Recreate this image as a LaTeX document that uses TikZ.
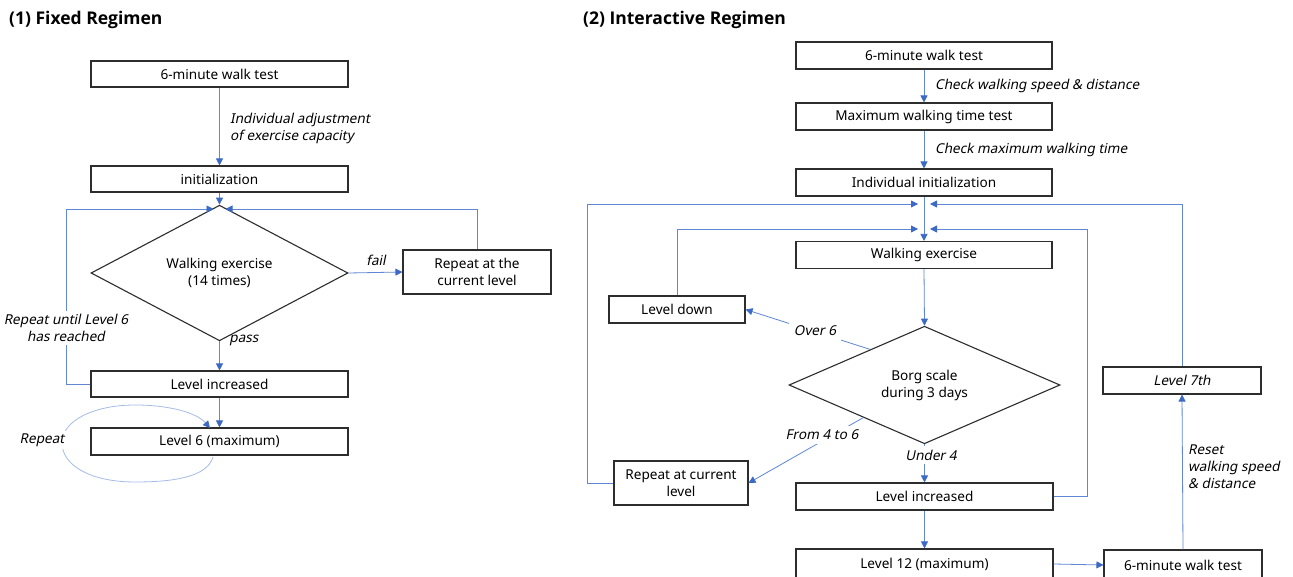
\documentclass[tikz,border=0pt]{standalone}
\usepackage{fontspec}
\setmainfont{Noto Sans}
\newfontfamily\oblfont{Noto Sans}[FakeSlant=0.2]
\newfontfamily\ttlfont{Open Sans}
\usetikzlibrary{arrows.meta,shapes.geometric,calc}
\definecolor{ln}{RGB}{95,135,212}
\definecolor{lnl}{RGB}{165,188,230}
\definecolor{ah}{RGB}{60,105,195}
\definecolor{bx}{RGB}{45,45,45}
\begin{document}
\begin{tikzpicture}[x=1pt,y=-1pt,
 box/.style={draw=bx,line width=1.1pt,minimum height=26pt,inner sep=0pt,font=\fontsize{13.6}{17}\selectfont,align=center},
 dia/.style={draw=bx,line width=1.1pt,diamond,inner sep=0pt,font=\fontsize{13.6}{17}\selectfont,align=center},
 arr/.style={draw=ln,line width=0.8pt,-{Triangle[length=7pt,width=7pt,color=ah]}},
 lbl/.style={font=\oblfont\fontsize{13.6}{17}\selectfont,align=left,inner sep=1pt},
 ttl/.style={font=\ttlfont\fontsize{17.5}{20}\selectfont\bfseries,anchor=west,inner sep=0pt}]
\useasboundingbox[fill=white] (0,0) rectangle (1293,577);

% ---------- (1) Fixed regimen ----------
\node[ttl] (t1) at (9,20) {(1) Fixed Regimen};
\node[box,minimum width=257pt] (a1) at (219.5,74) {6-minute walk test};
\node[box,minimum width=257pt] (a2) at (219.5,179) {initialization};
\node[dia,minimum width=257pt,minimum height=88pt] (a3) at (219.5,273) {Walking exercise\\(14 times)};
\node[box,minimum width=148pt,minimum height=44pt] (a4) at (477,272) {Repeat at the\\current level};
\node[box,minimum width=257pt] (a5) at (219.5,384) {Level increased};
\node[box,minimum width=257pt,minimum height=27pt] (a6) at (219.5,441.5) {Level 6 (maximum)};

\coordinate (m1l) at (213.5,209);
\coordinate (m1r) at (225.5,209);
\coordinate (c1) at (66,209);

\draw[arr] (a1.south) -- (a2.north);
\node[lbl,anchor=west] (l1) at (229,128) {Individual adjustment\\of exercise capacity};
\draw[arr] (a2.south) -- (a3.north);
\draw[arr] (a3.east) -- (a4.west);
\node[lbl] (l2) at (376,260) {fail};
\draw[arr] (a3.south) -- (a5.north);
\node[lbl] (l3) at (244,340) {pass};
\draw[arr] (a5.south) -- (a6.north);
\draw[arr] (a4.north) |- (m1r);
\draw[arr] (a5.west) -| (c1) -- (m1l);
\node[lbl,fill=white,align=center,inner sep=3pt] (l4) at (66,328) {Repeat until Level 6\\has reached};
\coordinate (r1) at (213,457);
\coordinate (r2) at (210,428);
\draw[draw=lnl,line width=0.8pt,-{Triangle[length=7pt,width=7pt,color=ah]}] (r1) .. controls (207,478) and (170,482) .. (135,482) .. controls (90,482) and (62,465) .. (62,443) .. controls (62,420) and (95,405) .. (135,405) .. controls (170,405) and (197,413) .. (r2);
\node[lbl,fill=white,inner sep=3pt] (l5) at (42,440) {Repeat};

% ---------- (2) Interactive regimen ----------
\node[ttl] (t2) at (583,20) {(2) Interactive Regimen};
\node[box,minimum width=256pt,minimum height=27pt] (b1) at (924,55.5) {6-minute walk test};
\node[box,minimum width=256pt,minimum height=27pt] (b2) at (924,116.5) {Maximum walking time test};
\node[box,minimum width=256pt,minimum height=27pt] (b3) at (924,182.5) {Individual initialization};
\node[box,minimum width=256pt,minimum height=27pt] (b4) at (924,255) {Walking exercise};
\node[dia,minimum width=271pt,minimum height=88pt] (b5) at (924.5,385) {Borg scale\\during 3 days};
\node[box,minimum width=136pt,minimum height=27pt] (b6) at (677,309.5) {Level down};
\node[box,minimum width=134pt,minimum height=44pt] (b7) at (681,483) {Repeat at current\\level};
\node[box,minimum width=257pt,minimum height=27pt] (b8) at (924.5,496.5) {Level increased};
\node[box,minimum width=257pt,minimum height=30pt] (b9) at (924.5,564) {Level 12 (maximum)};
\node[box,minimum width=158pt,minimum height=30pt] (b10) at (1183,565) {6-minute walk test};
\node[box,minimum width=158pt,minimum height=27pt,font=\oblfont\fontsize{13.6}{17}\selectfont] (b11) at (1182,380.5) {Level 7th};

\coordinate (oL) at (918,204);
\coordinate (oR) at (930,204);
\coordinate (iL) at (918,229);
\coordinate (iR) at (930,229);
\coordinate (oLc) at (587,204);
\coordinate (iRc) at (1087,229);

\draw[arr] (b1.south) -- (b2.north);
\node[lbl,anchor=west] (k1) at (934,86) {Check walking speed \& distance};
\draw[arr] (b2.south) -- (b3.north);
\node[lbl,anchor=west] (k2) at (934,150) {Check maximum walking time};
\draw[arr] (b3.south) -- (b4.north);
\draw[arr] (b4.south) -- (b5.north);
\draw[arr] (b7.west) -| (oLc) -- (oL);
\draw[arr] (b11.north) |- (oR);
\draw[arr] (b6.north) |- (iL);
\draw[arr] (b8.east) -| (iRc) -- (iR);
\draw[arr] ($(b5.north)!0.4!(b5.west)$) -- (b6.east);
\node[lbl,fill=white,inner sep=5pt] (k3) at (815,331) {Over 6};
\draw[arr] ($(b5.south)!0.45!(b5.west)$) -- (b7.east);
\node[lbl,fill=white,inner sep=4pt] (k4) at (822,435) {From 4 to 6};
\draw[arr] (b5.south) -- (b8.north);
\node[lbl,fill=white,inner sep=4pt] (k5) at (931,455) {Under 4};
\draw[arr] (b8.south) -- (b9.north);
\draw[arr] (b9.east) -- (b10.west);
\draw[arr] (b10.north) -- (b11.south);
\node[lbl,anchor=west] (k6) at (1187,467) {Reset\\walking speed\\\& distance};
\end{tikzpicture}
\end{document}
